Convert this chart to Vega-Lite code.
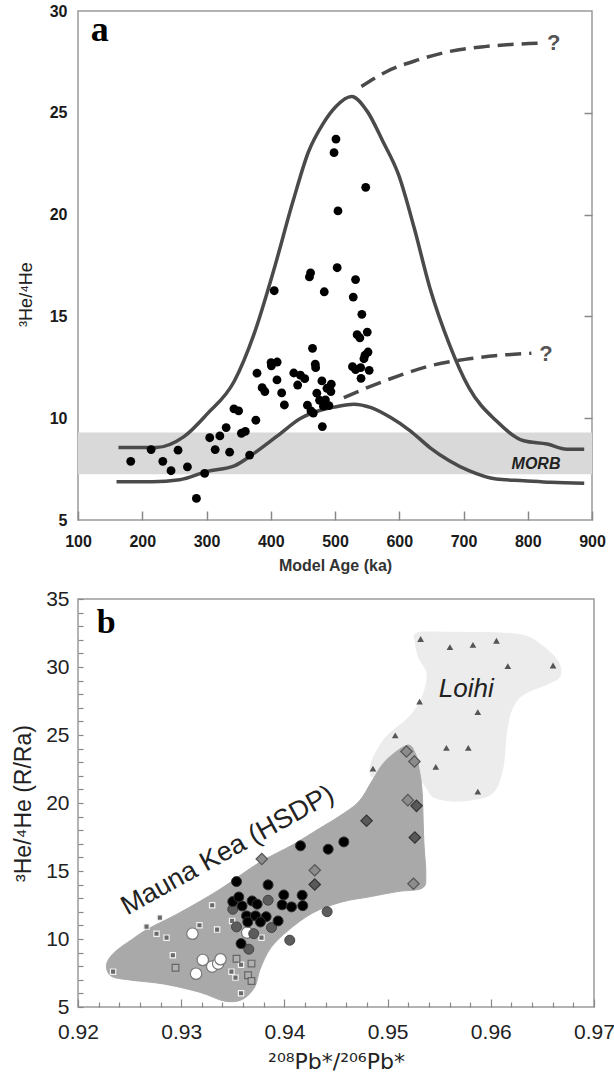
{
  "$schema": "https://vega.github.io/schema/vega-lite/v6.json",
  "background": "white",
  "padding": {"left": 11, "top": 2, "right": 0, "bottom": 0},
  "bounds": "flush",
  "spacing": 79,
  "config": {
    "view": {"stroke": "#9a9a9a", "strokeWidth": 1.5},
    "font": "Liberation Sans",
    "axis": {"grid": false, "domain": false, "labelOverlap": false, "labelFlush": false}
  },
  "datasets": {
    "agePts": [
      {"x":182.1,"y":7.88},{"x":213.8,"y":8.46},{"x":232,"y":7.88},{"x":244.8,"y":7.42},{"x":255.7,"y":8.43},
      {"x":270.3,"y":7.61},{"x":284.3,"y":6.06},{"x":297.1,"y":7.29},{"x":305,"y":9.04},{"x":313.5,"y":8.46},
      {"x":320.8,"y":9.13},{"x":330.6,"y":9.54},{"x":336,"y":8.33},{"x":342.7,"y":10.46},{"x":350,"y":10.36},
      {"x":354.3,"y":9.26},{"x":360.4,"y":9.35},{"x":367.1,"y":8.19},{"x":376.8,"y":9.9},{"x":378.6,"y":12.21},
      {"x":386.6,"y":11.5},{"x":390.8,"y":11.31},{"x":400.5,"y":12.73},{"x":405.4,"y":16.26},{"x":401,"y":12.57},
      {"x":410,"y":12.76},{"x":409.7,"y":11.88},{"x":417,"y":11.24},{"x":421.2,"y":10.65},{"x":435.8,"y":12.22},
      {"x":441.9,"y":11.63},{"x":446.2,"y":12.11},{"x":452.9,"y":11.94},{"x":457.1,"y":10.64},{"x":460.2,"y":16.94},
      {"x":462,"y":17.14},{"x":465,"y":13.43},{"x":469.3,"y":12.65},{"x":469.9,"y":12.48},{"x":462.6,"y":10.36},
      {"x":466.3,"y":10.25},{"x":471.7,"y":11.23},{"x":479.6,"y":11.83},{"x":483.3,"y":16.21},{"x":480.3,"y":9.59},
      {"x":476,"y":10.88},{"x":482,"y":10.59},{"x":487.5,"y":11.47},{"x":490.6,"y":10.62},{"x":493.6,"y":11.31},
      {"x":494.2,"y":11.67},{"x":485.1,"y":10.9},{"x":498.5,"y":23.04},{"x":501.5,"y":23.71},{"x":504.6,"y":20.18},
      {"x":503.4,"y":17.39},{"x":532,"y":16.81},{"x":528.4,"y":15.95},{"x":527.2,"y":12.53},{"x":532,"y":12.39},
      {"x":534.4,"y":14.1},{"x":538.7,"y":13.95},{"x":541.8,"y":15.1},{"x":540.5,"y":11.96},{"x":539.9,"y":12.48},
      {"x":547.8,"y":21.34},{"x":550.2,"y":14.23},{"x":546.6,"y":13.09},{"x":551.4,"y":13.25},{"x":553.2,"y":12.35},
      {"x":545,"y":12.92}
    ],
    "curves": [
      {"c":"upper","x":163,"y":8.56},{"c":"upper","x":221.7,"y":8.56},{"c":"upper","x":264.3,"y":9.08},{"c":"upper","x":300.8,"y":10.2},
      {"c":"upper","x":343.4,"y":11.83},{"c":"upper","x":373.8,"y":14.12},{"c":"upper","x":404.2,"y":17.22},{"c":"upper","x":434.6,"y":20.65},
      {"c":"upper","x":458.9,"y":23.1},{"c":"upper","x":480.3,"y":24.41},{"c":"upper","x":501.5,"y":25.31},{"c":"upper","x":525.9,"y":25.8},
      {"c":"upper","x":550.2,"y":25.07},{"c":"upper","x":574.6,"y":23.59},{"c":"upper","x":598.9,"y":21.96},{"c":"upper","x":623.2,"y":19.35},
      {"c":"upper","x":647.6,"y":16.41},{"c":"upper","x":678,"y":13.63},{"c":"upper","x":708.4,"y":11.5},{"c":"upper","x":751,"y":9.87},
      {"c":"upper","x":793.6,"y":8.89},{"c":"upper","x":830.1,"y":8.73},{"c":"upper","x":860.5,"y":8.48},{"c":"upper","x":887.9,"y":8.48},
      {"c":"lower","x":160,"y":6.88},{"c":"lower","x":215.6,"y":6.88},{"c":"lower","x":258.2,"y":6.98},{"c":"lower","x":300.8,"y":7.39},
      {"c":"lower","x":343.4,"y":7.66},{"c":"lower","x":373.8,"y":8.27},{"c":"lower","x":410.3,"y":9.13},{"c":"lower","x":446.8,"y":10.0},
      {"c":"lower","x":477.2,"y":10.39},{"c":"lower","x":501.5,"y":10.56},{"c":"lower","x":528.9,"y":10.69},{"c":"lower","x":556.3,"y":10.52},
      {"c":"lower","x":586.7,"y":10.03},{"c":"lower","x":617.1,"y":9.38},{"c":"lower","x":647.6,"y":8.56},{"c":"lower","x":678,"y":7.91},
      {"c":"lower","x":708.4,"y":7.42},{"c":"lower","x":751,"y":7.01},{"c":"lower","x":793.6,"y":6.93},{"c":"lower","x":836.2,"y":6.85},
      {"c":"lower","x":887.9,"y":6.81},
      {"c":"upperDash","x":541.1,"y":26.29},{"c":"upperDash","x":580.6,"y":27.03},{"c":"upperDash","x":629.3,"y":27.6},{"c":"upperDash","x":678,"y":28.01},
      {"c":"upperDash","x":732.7,"y":28.25},{"c":"upperDash","x":781.4,"y":28.37},{"c":"upperDash","x":824,"y":28.42},
      {"c":"lowerDash","x":513.7,"y":11.01},{"c":"lowerDash","x":550.2,"y":11.5},{"c":"lowerDash","x":598.9,"y":12.08},{"c":"lowerDash","x":647.6,"y":12.57},
      {"c":"lowerDash","x":702.3,"y":12.89},{"c":"lowerDash","x":757.1,"y":13.09},{"c":"lowerDash","x":805.7,"y":13.19}
    ],
    "regions": [
      {"r":"Loihi","i":0,"x":0.95286,"y":32.5},{"r":"Loihi","i":1,"x":0.95576,"y":32.55},{"r":"Loihi","i":2,"x":0.9626,"y":32.4},
      {"r":"Loihi","i":3,"x":0.965,"y":31.54},{"r":"Loihi","i":4,"x":0.96654,"y":30.37},{"r":"Loihi","i":5,"x":0.96671,"y":29.33},
      {"r":"Loihi","i":6,"x":0.96568,"y":28.81},{"r":"Loihi","i":7,"x":0.96329,"y":28.03},{"r":"Loihi","i":8,"x":0.96209,"y":26.99},
      {"r":"Loihi","i":9,"x":0.96151,"y":25.17},{"r":"Loihi","i":10,"x":0.96117,"y":22.58},{"r":"Loihi","i":11,"x":0.96021,"y":20.76},
      {"r":"Loihi","i":12,"x":0.95816,"y":20.24},{"r":"Loihi","i":13,"x":0.95611,"y":20.16},{"r":"Loihi","i":14,"x":0.9544,"y":20.45},
      {"r":"Loihi","i":15,"x":0.95371,"y":21.2},{"r":"Loihi","i":16,"x":0.9525,"y":22.0},{"r":"Loihi","i":17,"x":0.949,"y":21.9},
      {"r":"Loihi","i":18,"x":0.94834,"y":22.12},{"r":"Loihi","i":19,"x":0.9485,"y":23.1},{"r":"Loihi","i":20,"x":0.9498,"y":24.82},
      {"r":"Loihi","i":21,"x":0.95205,"y":26.29},{"r":"Loihi","i":22,"x":0.95334,"y":27.76},{"r":"Loihi","i":23,"x":0.95383,"y":29.48},
      {"r":"Loihi","i":24,"x":0.95302,"y":30.7},{"r":"Loihi","i":25,"x":0.9527,"y":31.8},
      {"r":"MK","i":0,"x":0.92276,"y":7.9},{"r":"MK","i":1,"x":0.923,"y":8.55},{"r":"MK","i":2,"x":0.9238,"y":9.2},
      {"r":"MK","i":3,"x":0.9252,"y":9.95},{"r":"MK","i":4,"x":0.9268,"y":10.75},{"r":"MK","i":5,"x":0.92977,"y":11.9},
      {"r":"MK","i":6,"x":0.93364,"y":13.6},{"r":"MK","i":7,"x":0.93752,"y":15.6},{"r":"MK","i":8,"x":0.94075,"y":16.9},
      {"r":"MK","i":9,"x":0.94333,"y":18.1},{"r":"MK","i":10,"x":0.94527,"y":19.0},{"r":"MK","i":11,"x":0.94721,"y":20.1},
      {"r":"MK","i":12,"x":0.9485,"y":21.63},{"r":"MK","i":13,"x":0.9498,"y":23.1},{"r":"MK","i":14,"x":0.9519,"y":24.25},
      {"r":"MK","i":15,"x":0.9527,"y":23.6},{"r":"MK","i":16,"x":0.95302,"y":22.61},{"r":"MK","i":17,"x":0.95334,"y":20.89},
      {"r":"MK","i":18,"x":0.95351,"y":17.21},{"r":"MK","i":19,"x":0.9537,"y":14.79},{"r":"MK","i":20,"x":0.95337,"y":13.75},
      {"r":"MK","i":21,"x":0.95098,"y":13.49},{"r":"MK","i":22,"x":0.94824,"y":13.1},{"r":"MK","i":23,"x":0.9455,"y":12.71},
      {"r":"MK","i":24,"x":0.94277,"y":11.93},{"r":"MK","i":25,"x":0.94037,"y":10.63},{"r":"MK","i":26,"x":0.93866,"y":9.33},
      {"r":"MK","i":27,"x":0.93764,"y":7.77},{"r":"MK","i":28,"x":0.93712,"y":6.47},{"r":"MK","i":29,"x":0.93593,"y":5.56},
      {"r":"MK","i":30,"x":0.93422,"y":5.43},{"r":"MK","i":31,"x":0.93182,"y":6.08},{"r":"MK","i":32,"x":0.9284,"y":6.68},
      {"r":"MK","i":33,"x":0.92498,"y":6.99},{"r":"MK","i":34,"x":0.92327,"y":7.25}
    ],
    "pb": [
      {"g":"tri","x":0.9532,"y":32.06},{"g":"tri","x":0.95604,"y":31.46},{"g":"tri","x":0.95827,"y":31.62},{"g":"tri","x":0.96055,"y":31.93},
      {"g":"tri","x":0.96165,"y":30.06},{"g":"tri","x":0.96603,"y":30.11},{"g":"tri","x":0.9531,"y":27.46},{"g":"tri","x":0.95874,"y":26.68},
      {"g":"tri","x":0.95074,"y":24.97},{"g":"tri","x":0.9557,"y":24.06},{"g":"tri","x":0.95782,"y":24.06},{"g":"tri","x":0.94858,"y":22.53},
      {"g":"tri","x":0.95467,"y":22.66},{"g":"tri","x":0.95874,"y":20.84},
      {"g":"sq","x":0.933,"y":12.48},{"g":"sq","x":0.92793,"y":11.57},{"g":"sq","x":0.92664,"y":10.91},{"g":"sq","x":0.92761,"y":10.39},
      {"g":"sq","x":0.92858,"y":10.1},{"g":"sq","x":0.93177,"y":11.01},{"g":"sq","x":0.93348,"y":10.69},{"g":"sq","x":0.93493,"y":11.33},
      {"g":"sq","x":0.93778,"y":10.1},{"g":"sq","x":0.92919,"y":8.8},{"g":"sq","x":0.9358,"y":8.11},{"g":"sq","x":0.93487,"y":7.6},
      {"g":"sq","x":0.93526,"y":7.16},{"g":"sq","x":0.9358,"y":6.01},{"g":"sq","x":0.9234,"y":7.6},
      {"g":"osq","x":0.92945,"y":7.89},{"g":"osq","x":0.93536,"y":8.55},{"g":"osq","x":0.93681,"y":8.19},{"g":"osq","x":0.93648,"y":7.33},
      {"g":"osq","x":0.93681,"y":6.91},
      {"g":"wc","x":0.93109,"y":10.39},{"g":"wc","x":0.93209,"y":8.46},{"g":"wc","x":0.933,"y":7.97},{"g":"wc","x":0.93358,"y":8.19},
      {"g":"wc","x":0.93144,"y":7.45},{"g":"wc","x":0.93381,"y":8.51},{"g":"wc","x":0.93639,"y":10.47},
      {"g":"dc","x":0.935,"y":12.19},{"g":"dc","x":0.93842,"y":12.85},{"g":"dc","x":0.93536,"y":10.89},{"g":"dc","x":0.93703,"y":10.39},
      {"g":"dc","x":0.93875,"y":10.84},{"g":"dc","x":0.94052,"y":9.91},{"g":"dc","x":0.94414,"y":12.01},{"g":"dc","x":0.93655,"y":9.25},
      {"g":"bc","x":0.94156,"y":16.85},{"g":"bc","x":0.94424,"y":16.6},{"g":"bc","x":0.94576,"y":17.14},{"g":"bc","x":0.93536,"y":14.22},
      {"g":"bc","x":0.93842,"y":13.98},{"g":"bc","x":0.93994,"y":13.24},{"g":"bc","x":0.94172,"y":13.22},{"g":"bc","x":0.935,"y":12.75},
      {"g":"bc","x":0.9359,"y":12.43},{"g":"bc","x":0.93687,"y":12.8},{"g":"bc","x":0.93736,"y":12.56},{"g":"bc","x":0.93978,"y":12.51},
      {"g":"bc","x":0.94069,"y":12.36},{"g":"bc","x":0.94178,"y":12.45},{"g":"bc","x":0.93633,"y":11.7},{"g":"bc","x":0.9372,"y":11.7},
      {"g":"bc","x":0.93823,"y":11.64},{"g":"bc","x":0.93939,"y":11.33},{"g":"bc","x":0.93645,"y":11.25},{"g":"bc","x":0.93768,"y":11.25},
      {"g":"bc","x":0.9358,"y":9.66},{"g":"bc","x":0.93558,"y":13.09},
      {"g":"dl","x":0.95183,"y":23.79},{"g":"dl","x":0.9526,"y":23.05},{"g":"dl","x":0.95196,"y":20.21},{"g":"dl","x":0.93781,"y":15.88},
      {"g":"dl","x":0.94294,"y":15.05},{"g":"dl","x":0.95251,"y":14.06},
      {"g":"dd","x":0.9528,"y":19.79},{"g":"dd","x":0.94796,"y":18.69},{"g":"dd","x":0.95264,"y":17.46},{"g":"dd","x":0.94294,"y":14.01}
    ]
  },
  "vconcat": [
    {
      "width": 514,
      "height": 509,
      "resolve": {"axis": {"y": "independent"}},
      "layer": [
        {
          "data": {"values": [{"x": 100, "x2": 900, "y": 7.25, "y2": 9.3}]},
          "mark": {"type": "rect", "color": "#d9d9d9"},
          "encoding": {
            "x": {"field": "x", "type": "quantitative", "scale": {"domain": [100, 900], "nice": false, "zero": false},
              "axis": {"title": "Model Age (ka)", "values": [100, 200, 300, 400, 500, 600, 700, 800, 900], "labelOverlap": false,
                "tickSize": -9, "tickColor": "#888", "tickWidth": 1.5, "labelPadding": 22,
                "labelFontSize": 16, "labelFontWeight": "bold", "labelColor": "#1a1a1a",
                "titleFontSize": 16, "titleFontWeight": "bold", "titleColor": "#333", "titlePadding": 8}},
            "x2": {"field": "x2"},
            "y": {"field": "y", "type": "quantitative", "scale": {"domain": [5, 30], "nice": false, "zero": false},
              "axis": {"title": "³He/⁴He", "values": [5, 10, 15, 20, 25, 30], "ticks": false, "labelPadding": 11, "labelOverlap": false,
                "labelFontSize": 16, "labelFontWeight": "bold", "labelColor": "#1a1a1a",
                "titleFontSize": 18, "titleFontWeight": "normal", "titleColor": "#222", "titlePadding": 14, "titleY": 283}},
            "y2": {"field": "y2"}
          }
        },
        {
          "data": {"values": [{"y": 5}]},
          "mark": {"type": "point", "opacity": 0},
          "encoding": {
            "y": {"field": "y", "type": "quantitative", "scale": {"domain": [5, 30], "nice": false, "zero": false},
              "axis": {"orient": "right", "title": null, "labels": false, "values": [10, 15, 20, 25],
                "tickSize": -8, "tickColor": "#888", "tickWidth": 1.5}}
          }
        },
        {
          "data": {"name": "curves"},
          "transform": [{"filter": "datum.c === 'upper' || datum.c === 'lower'"}],
          "mark": {"type": "line", "color": "#4a4a4a", "strokeWidth": 3.5, "interpolate": "monotone"},
          "encoding": {
            "x": {"field": "x", "type": "quantitative"},
            "y": {"field": "y", "type": "quantitative", "axis": null},
            "detail": {"field": "c"}
          }
        },
        {
          "data": {"name": "curves"},
          "transform": [{"filter": "datum.c === 'upperDash' || datum.c === 'lowerDash'"}],
          "mark": {"type": "line", "color": "#4a4a4a", "strokeWidth": 3.5, "interpolate": "monotone", "strokeDash": [16, 8]},
          "encoding": {
            "x": {"field": "x", "type": "quantitative"},
            "y": {"field": "y", "type": "quantitative", "axis": null},
            "detail": {"field": "c"}
          }
        },
        {
          "data": {"name": "agePts"},
          "mark": {"type": "circle", "color": "#000", "opacity": 1, "size": 78},
          "encoding": {
            "x": {"field": "x", "type": "quantitative"},
            "y": {"field": "y", "type": "quantitative", "axis": null}
          }
        },
        {
          "data": {"values": [{"x": 119.7, "y": 28.53, "t": "a"}]},
          "mark": {"type": "text", "font": "Liberation Serif", "fontWeight": "bold", "fontSize": 36, "align": "left", "baseline": "alphabetic", "color": "#000"},
          "encoding": {
            "x": {"field": "x", "type": "quantitative"},
            "y": {"field": "y", "type": "quantitative", "axis": null},
            "text": {"field": "t"}
          }
        },
        {
          "data": {"values": [{"x": 840.4, "y": 28.41, "t": "?"}, {"x": 828.3, "y": 13.14, "t": "?"}]},
          "mark": {"type": "text", "fontWeight": "bold", "fontSize": 22, "align": "center", "baseline": "middle", "color": "#555"},
          "encoding": {
            "x": {"field": "x", "type": "quantitative"},
            "y": {"field": "y", "type": "quantitative", "axis": null},
            "text": {"field": "t"}
          }
        },
        {
          "data": {"values": [{"x": 812.9, "y": 7.52, "t": "MORB"}]},
          "mark": {"type": "text", "fontWeight": "bold", "fontStyle": "italic", "fontSize": 16, "align": "center", "baseline": "alphabetic", "color": "#222"},
          "encoding": {
            "x": {"field": "x", "type": "quantitative"},
            "y": {"field": "y", "type": "quantitative", "axis": null},
            "text": {"field": "t"}
          }
        }
      ]
    },
    {
      "width": 516,
      "height": 408,
      "resolve": {"axis": {"x": "independent", "y": "independent"}},
      "layer": [
        {
          "data": {"name": "regions"},
          "transform": [{"filter": "datum.r === 'Loihi'"}],
          "mark": {"type": "line", "interpolate": "cardinal-closed", "fill": "#ececec", "stroke": "#ececec", "strokeWidth": 1},
          "encoding": {
            "x": {"field": "x", "type": "quantitative", "scale": {"domain": [0.92, 0.97], "nice": false, "zero": false},
              "axis": {"title": "²⁰⁸Pb*/²⁰⁶Pb*", "titleFont": "DejaVu Sans", "labelOverlap": false,
                "values": [0.92, 0.93, 0.94, 0.95, 0.96, 0.97], "format": ".2f",
                "tickSize": -8, "tickColor": "#888", "tickWidth": 1.2, "labelPadding": 22, "labelDx": -6,
                "labelFontSize": 21, "labelColor": "#222",
                "titleFontSize": 22, "titleFontWeight": "normal", "titleColor": "#222", "titlePadding": 9}},
            "y": {"field": "y", "type": "quantitative", "scale": {"domain": [5, 35], "nice": false, "zero": false},
              "axis": {"title": "³He/⁴He (R/Ra)", "labelOverlap": false,
                "values": [5, 10, 15, 20, 25, 30, 35],
                "tickSize": -5, "tickColor": "#888", "tickWidth": 1.2, "labelPadding": 14,
                "labelFontSize": 21, "labelColor": "#222",
                "titleFontSize": 23, "titleFontWeight": "normal", "titleColor": "#222", "titlePadding": 10}},
            "order": {"field": "i"}
          }
        },
        {
          "data": {"values": [{"x": 0.92, "y": 5}]},
          "mark": {"type": "point", "opacity": 0},
          "encoding": {
            "x": {"field": "x", "type": "quantitative", "scale": {"domain": [0.92, 0.97], "nice": false, "zero": false},
              "axis": {"orient": "bottom", "title": null, "labels": false,
                "values": [0.922, 0.924, 0.926, 0.928, 0.932, 0.934, 0.936, 0.938, 0.942, 0.944, 0.946, 0.948, 0.952, 0.954, 0.956, 0.958, 0.962, 0.964, 0.966, 0.968],
                "tickSize": -5, "tickColor": "#888", "tickWidth": 1.2}},
            "y": {"field": "y", "type": "quantitative", "scale": {"domain": [5, 35], "nice": false, "zero": false},
              "axis": {"orient": "left", "title": null, "labels": false,
                "values": [6, 7, 8, 9, 11, 12, 13, 14, 16, 17, 18, 19, 21, 22, 23, 24, 26, 27, 28, 29, 31, 32, 33, 34],
                "tickSize": -5, "tickColor": "#888", "tickWidth": 1.2}}
          }
        },
        {
          "data": {"name": "regions"},
          "transform": [{"filter": "datum.r === 'MK'"}],
          "mark": {"type": "line", "interpolate": "cardinal-closed", "fill": "#a9a9a9", "stroke": "#a9a9a9", "strokeWidth": 1},
          "encoding": {
            "x": {"field": "x", "type": "quantitative", "axis": null},
            "y": {"field": "y", "type": "quantitative", "axis": null},
            "order": {"field": "i"}
          }
        },
        {
          "data": {"name": "pb"},
          "transform": [{"filter": "datum.g === 'tri'"}],
          "mark": {"type": "point", "shape": "triangle-up", "filled": true, "color": "#555", "opacity": 1, "size": 45},
          "encoding": {"x": {"field": "x", "type": "quantitative", "axis": null}, "y": {"field": "y", "type": "quantitative", "axis": null}}
        },
        {
          "data": {"name": "pb"},
          "transform": [{"filter": "datum.g === 'sq'"}],
          "mark": {"type": "point", "shape": "square", "filled": true, "fill": "#6a6a6a", "stroke": "#f2f2f2", "strokeWidth": 1.2, "opacity": 1, "size": 28},
          "encoding": {"x": {"field": "x", "type": "quantitative", "axis": null}, "y": {"field": "y", "type": "quantitative", "axis": null}}
        },
        {
          "data": {"name": "pb"},
          "transform": [{"filter": "datum.g === 'osq'"}],
          "mark": {"type": "point", "shape": "square", "filled": true, "fill": "#b0b0b0", "stroke": "#666", "strokeWidth": 1.2, "opacity": 1, "size": 45},
          "encoding": {"x": {"field": "x", "type": "quantitative", "axis": null}, "y": {"field": "y", "type": "quantitative", "axis": null}}
        },
        {
          "data": {"name": "pb"},
          "transform": [{"filter": "datum.g === 'wc'"}],
          "mark": {"type": "point", "shape": "circle", "filled": true, "fill": "#ffffff", "stroke": "#777", "strokeWidth": 1.2, "opacity": 1, "size": 130},
          "encoding": {"x": {"field": "x", "type": "quantitative", "axis": null}, "y": {"field": "y", "type": "quantitative", "axis": null}}
        },
        {
          "data": {"name": "pb"},
          "transform": [{"filter": "datum.g === 'dc'"}],
          "mark": {"type": "point", "shape": "circle", "filled": true, "fill": "#5c5c5c", "stroke": "#444", "strokeWidth": 1, "opacity": 1, "size": 100},
          "encoding": {"x": {"field": "x", "type": "quantitative", "axis": null}, "y": {"field": "y", "type": "quantitative", "axis": null}}
        },
        {
          "data": {"name": "pb"},
          "transform": [{"filter": "datum.g === 'bc'"}],
          "mark": {"type": "point", "shape": "circle", "filled": true, "fill": "#000", "stroke": "#333", "strokeWidth": 1, "opacity": 1, "size": 100},
          "encoding": {"x": {"field": "x", "type": "quantitative", "axis": null}, "y": {"field": "y", "type": "quantitative", "axis": null}}
        },
        {
          "data": {"name": "pb"},
          "transform": [{"filter": "datum.g === 'dl'"}],
          "mark": {"type": "point", "shape": "diamond", "filled": true, "fill": "#8c8c8c", "stroke": "#555", "strokeWidth": 1.2, "opacity": 1, "size": 130},
          "encoding": {"x": {"field": "x", "type": "quantitative", "axis": null}, "y": {"field": "y", "type": "quantitative", "axis": null}}
        },
        {
          "data": {"name": "pb"},
          "transform": [{"filter": "datum.g === 'dd'"}],
          "mark": {"type": "point", "shape": "diamond", "filled": true, "fill": "#595959", "stroke": "#333", "strokeWidth": 1.2, "opacity": 1, "size": 130},
          "encoding": {"x": {"field": "x", "type": "quantitative", "axis": null}, "y": {"field": "y", "type": "quantitative", "axis": null}}
        },
        {
          "data": {"values": [{"x": 0.92182, "y": 32.52, "t": "b"}]},
          "mark": {"type": "text", "font": "Liberation Serif", "fontWeight": "bold", "fontSize": 34, "align": "left", "baseline": "alphabetic", "color": "#000"},
          "encoding": {"x": {"field": "x", "type": "quantitative", "axis": null}, "y": {"field": "y", "type": "quantitative", "axis": null}, "text": {"field": "t"}}
        },
        {
          "data": {"values": [{"x": 0.95496, "y": 27.76, "t": "Loihi"}]},
          "mark": {"type": "text", "fontStyle": "italic", "fontSize": 26, "align": "left", "baseline": "alphabetic", "color": "#222"},
          "encoding": {"x": {"field": "x", "type": "quantitative", "axis": null}, "y": {"field": "y", "type": "quantitative", "axis": null}, "text": {"field": "t"}}
        },
        {
          "data": {"values": [{"x": 0.9345, "y": 16.5, "t": "Mauna Kea (HSDP)"}]},
          "mark": {"type": "text", "fontSize": 27, "angle": -29, "align": "center", "baseline": "middle", "color": "#222"},
          "encoding": {"x": {"field": "x", "type": "quantitative", "axis": null}, "y": {"field": "y", "type": "quantitative", "axis": null}, "text": {"field": "t"}}
        }
      ]
    }
  ]
}
